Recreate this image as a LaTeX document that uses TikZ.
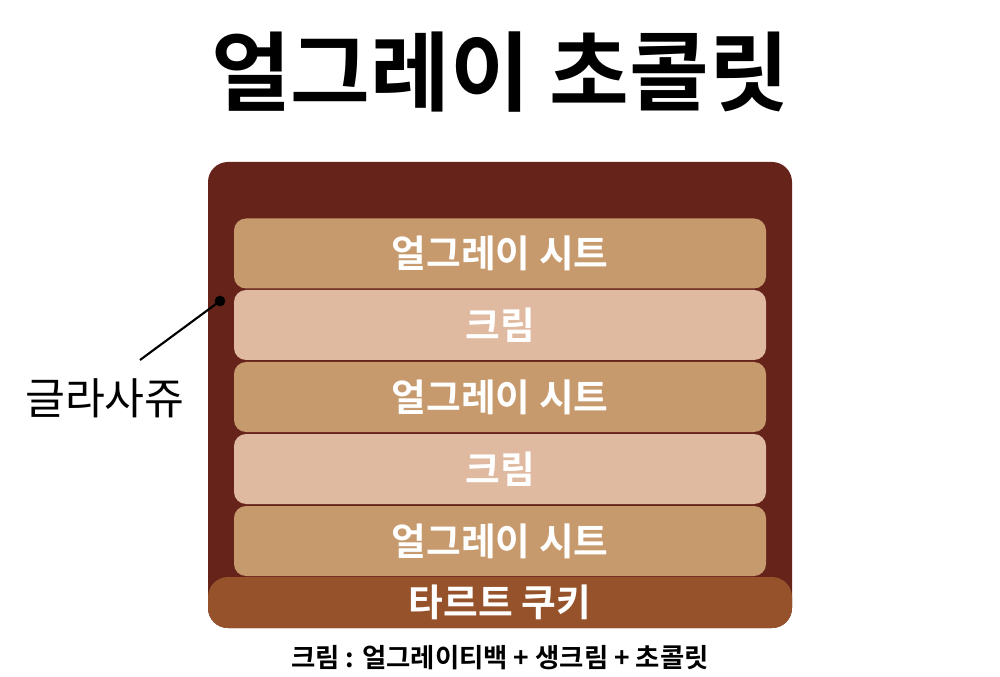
\documentclass[tikz,border=0pt]{standalone}
\usepackage{fontspec}
\newfontfamily\kr{Noto Sans CJK KR}
\newfontfamily\krb{Noto Sans CJK KR Bold}
\definecolor{choc}{HTML}{66231A}
\definecolor{sheet}{HTML}{C69A6D}
\definecolor{cream}{HTML}{DFB9A0}
\definecolor{tart}{HTML}{96532B}
\begin{document}
\begin{tikzpicture}[x=0.75pt,y=-0.75pt,
  layer/.style={rounded corners=9pt,minimum width=399pt,minimum height=52.5pt,inner sep=0pt,text=white,font=\krb\fontsize{28.3}{32}\selectfont},
  ]
\useasboundingbox (0,0) rectangle (1000,677);
\node[font=\krb\fontsize{65}{75}\selectfont] (title) at (500,72) {얼그레이 초콜릿};
\node[fill=choc,rounded corners=15pt,minimum width=438pt,minimum height=349.5pt,inner sep=0pt] (outer) at (500,395) {};
\node[layer,fill=sheet] (l1) at (500,253.5) {얼그레이 시트};
\node[layer,fill=cream] (l2) at (500,325) {크림};
\node[layer,fill=sheet] (l3) at (500,397) {얼그레이 시트};
\node[layer,fill=cream] (l4) at (500,469) {크림};
\node[layer,fill=sheet] (l5) at (500,541) {얼그레이 시트};
\node[fill=tart,rounded corners=15pt,minimum width=438pt,minimum height=38.25pt,inner sep=0pt,text=white,font=\krb\fontsize{28.3}{32}\selectfont] (base) at (500,602.5) {타르트 쿠키};
\node[circle,fill=black,minimum size=8pt,inner sep=0pt] (dot) at (220,301) {};
\coordinate (lend) at (140,360);
\draw[line width=1.6pt] (dot.center) -- (lend);
\node[font=\kr\fontsize{32.5}{38}\selectfont] (glaze) at (105,398) {글라사쥬};
\node[font=\krb\fontsize{19.8}{24}\selectfont] (note) at (500,658) {크림 : 얼그레이티백 + 생크림 + 초콜릿};
\end{tikzpicture}
\end{document}
